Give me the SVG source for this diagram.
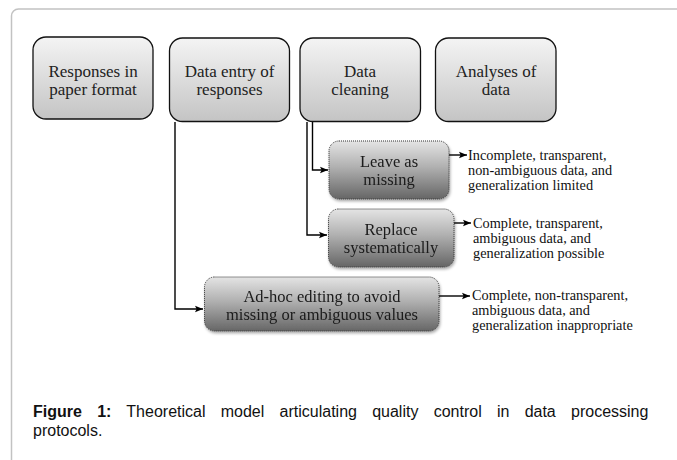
<svg xmlns="http://www.w3.org/2000/svg" width="677" height="460" viewBox="0 0 677 460">
  <defs>
    <linearGradient id="gStage" x1="0" y1="0" x2="0" y2="1">
      <stop offset="0" stop-color="#f4f4f4"/>
      <stop offset="1" stop-color="#c4c4c4"/>
    </linearGradient>
    <linearGradient id="gOption" x1="0" y1="0" x2="0" y2="1">
      <stop offset="0" stop-color="#e4e4e4"/>
      <stop offset="0.45" stop-color="#b0b0b0"/>
      <stop offset="1" stop-color="#666"/>
    </linearGradient>
    <filter id="shadow" x="-10%" y="-10%" width="130%" height="140%">
      <feGaussianBlur in="SourceAlpha" stdDeviation="1.5"/>
      <feOffset dx="1" dy="2" result="b"/>
      <feComponentTransfer><feFuncA type="linear" slope="0.35"/></feComponentTransfer>
      <feMerge><feMergeNode/><feMergeNode in="SourceGraphic"/></feMerge>
    </filter>
    <marker id="arrow" viewBox="0 0 8 8" refX="8" refY="4" markerWidth="8" markerHeight="8" markerUnits="userSpaceOnUse" orient="auto">
      <path d="M0,0.8 L8,4 L0,7.2 L1.6,4 Z" fill="#000"/>
    </marker>
  </defs>
  <style>
    .frame { fill: #fff; stroke: #c2c2c2; stroke-width: 1.5; }
    .stage { fill: url(#gStage); stroke: #111; stroke-width: 1.3; }
    .option { fill: url(#gOption); stroke: #333; stroke-width: 1; stroke-dasharray: 1 1; }
    .lbl { font-family: "Liberation Serif", "Times New Roman", serif; font-size: 17px; fill: #222; text-anchor: middle; }
    .olbl { font-family: "Liberation Serif", "Times New Roman", serif; font-size: 16.5px; fill: #1a1a1a; text-anchor: middle; }
    .note { font-family: "Liberation Serif", "Times New Roman", serif; font-size: 14.3px; fill: #111; }
    .wire { fill: none; stroke: #000; stroke-width: 1.4; }
    .cap { font-family: "Liberation Sans", Arial, sans-serif; font-size: 16px; fill: #111; }
  </style>

  <!-- page frame -->
  <rect class="frame" x="11.5" y="9" width="700" height="480" rx="7"/>

  <!-- connectors -->
  <g id="connectors">
    <path class="wire" d="M175,122 V309 H203" marker-end="url(#arrow)"/>
    <path class="wire" d="M312.5,122 V170 H328" marker-end="url(#arrow)"/>
    <path class="wire" d="M307,122 V235 H327" marker-end="url(#arrow)"/>
    <path class="wire" d="M449,155 H467" marker-end="url(#arrow)"/>
    <path class="wire" d="M454,223 H471" marker-end="url(#arrow)"/>
    <path class="wire" d="M439,296 H470" marker-end="url(#arrow)"/>
  </g>

  <!-- process stages -->
  <g id="responses-paper">
    <rect class="stage" x="33" y="37" width="120" height="82" rx="13"/>
    <text class="lbl" x="93" y="77">Responses in</text>
    <text class="lbl" x="93" y="95">paper format</text>
  </g>
  <g id="data-entry">
    <rect class="stage" x="169.5" y="38" width="120" height="83.5" rx="13"/>
    <text class="lbl" x="229.5" y="77">Data entry of</text>
    <text class="lbl" x="229.5" y="95">responses</text>
  </g>
  <g id="data-cleaning">
    <rect class="stage" x="300" y="38" width="120.5" height="83.5" rx="13"/>
    <text class="lbl" x="360" y="77">Data</text>
    <text class="lbl" x="360" y="95">cleaning</text>
  </g>
  <g id="analyses">
    <rect class="stage" x="435.5" y="38" width="120.5" height="83.5" rx="13"/>
    <text class="lbl" x="496" y="77">Analyses of</text>
    <text class="lbl" x="496" y="95">data</text>
  </g>

  <!-- handling options -->
  <g id="leave-missing" filter="url(#shadow)">
    <rect class="option" x="329" y="141" width="120" height="58" rx="10"/>
    <text class="olbl" x="389" y="167">Leave as</text>
    <text class="olbl" x="389" y="185">missing</text>
  </g>
  <g id="replace" filter="url(#shadow)">
    <rect class="option" x="328.5" y="209" width="125.5" height="58" rx="10"/>
    <text class="olbl" x="391" y="235">Replace</text>
    <text class="olbl" x="391" y="253">systematically</text>
  </g>
  <g id="ad-hoc" filter="url(#shadow)">
    <rect class="option" x="204.5" y="277" width="234.5" height="54" rx="10"/>
    <text class="olbl" x="322" y="302">Ad-hoc editing to avoid</text>
    <text class="olbl" x="322" y="320">missing or ambiguous values</text>
  </g>

  <!-- outcomes -->
  <g id="outcome-leave">
    <text class="note" x="468" y="160">Incomplete, transparent,</text>
    <text class="note" x="468" y="175">non-ambiguous data, and</text>
    <text class="note" x="468" y="190">generalization limited</text>
  </g>
  <g id="outcome-replace">
    <text class="note" x="473" y="228">Complete, transparent,</text>
    <text class="note" x="473" y="243">ambiguous data, and</text>
    <text class="note" x="473" y="258">generalization possible</text>
  </g>
  <g id="outcome-adhoc">
    <text class="note" x="472" y="300">Complete, non-transparent,</text>
    <text class="note" x="472" y="315">ambiguous data, and</text>
    <text class="note" x="472" y="330">generalization inappropriate</text>
  </g>

  <!-- caption -->
  <text class="cap" x="33" y="417" word-spacing="10.8"><tspan font-weight="bold">Figure 1:</tspan> Theoretical model articulating quality control in data processing</text>
  <text class="cap" x="33" y="436">protocols.</text>
</svg>
